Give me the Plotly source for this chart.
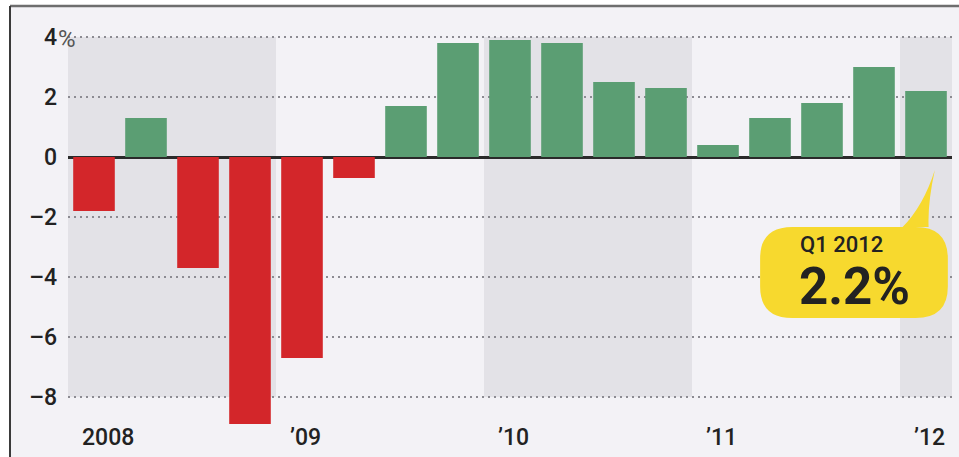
import plotly.graph_objects as go

# Quarterly GDP growth, annualised %, Q1 2008 - Q1 2012
quarters = [
    "Q1 2008", "Q2 2008", "Q3 2008", "Q4 2008",
    "Q1 2009", "Q2 2009", "Q3 2009", "Q4 2009",
    "Q1 2010", "Q2 2010", "Q3 2010", "Q4 2010",
    "Q1 2011", "Q2 2011", "Q3 2011", "Q4 2011",
    "Q1 2012",
]
growth = [-1.8, 1.3, -3.7, -8.9, -6.7, -0.7, 1.7, 3.8,
          3.9, 3.8, 2.5, 2.3, 0.4, 1.3, 1.8, 3.0, 2.2]

year_labels = ["2008", "\u201909", "\u201910", "\u201911", "\u201912"]
shaded_years = ["2008", "2010", "2012"]

y_ticks = [4, 2, 0, -2, -4, -6, -8]
y_tick_text = ["4", "2", "0", "\u20132", "\u20134", "\u20136", "\u20138"]

callout_title = "Q1 2012"
callout_value = "2.2%"

RED = "#d3262a"
GREEN = "#5b9e73"
BG = "#f3f2f6"
BAND = "#e3e2e7"
YELLOW = "#f7d92e"
INK = "#222222"
FONT = "Roboto"

x = list(range(len(quarters)))
colors = [GREEN if v >= 0 else RED for v in growth]

fig = go.Figure(go.Bar(x=x, y=growth, marker=dict(color=colors, line=dict(width=0)),
                       width=0.8, hoverinfo="skip"))

# plot-area geometry (pixels) used to place paper-referenced frame items
W, H = 959, 457
L, R, T, B = 68, 7, 10, 30
pw, ph = W - L - R, H - T - B

def px_x(p):
    return (p - L) / pw

def px_y(p):
    return (H - B - p) / ph

shapes = []
# light panel behind the chart, inside the frame
shapes.append(dict(type="rect", xref="paper", yref="paper", layer="below",
                   x0=px_x(10), x1=px_x(W), y0=px_y(H), y1=px_y(7),
                   fillcolor=BG, line=dict(width=0)))
# shaded alternate years
for yr in shaded_years:
    idx = [i for i, q in enumerate(quarters) if q.endswith(yr)]
    shapes.append(dict(type="rect", xref="x", yref="y", layer="below",
                       x0=min(idx) - 0.5 - (0.08 if min(idx) == 0 else 0),
                       x1=max(idx) + 0.5, y0=min(y_ticks), y1=max(y_ticks),
                       fillcolor=BAND, line=dict(width=0)))
# frame lines: top and left
shapes.append(dict(type="line", xref="paper", yref="paper", layer="above",
                   x0=px_x(10), x1=px_x(W), y0=px_y(6), y1=px_y(6),
                   line=dict(color="#6e6e6e", width=2.5)))
shapes.append(dict(type="line", xref="paper", yref="paper", layer="above",
                   x0=px_x(10), x1=px_x(10), y0=px_y(6), y1=px_y(H),
                   line=dict(color="#3a3a3a", width=2)))

# yellow speech bubble pointing at the latest quarter
last = len(growth) - 1
bx0, bx1 = last - 3.19, last + 0.42
by_top, by_bot = -2.33, -5.37
rx, ry = 0.62, 1.05
tip_x, tip_y = last + 0.17, -0.43
base_l, base_r = last - 0.45, last + 0.05
path = (
    f"M {bx0 + rx},{by_top} L {base_l},{by_top} "
    f"Q {base_l + 0.4},{by_top + 0.7} {tip_x},{tip_y} "
    f"Q {base_r - 0.02},{by_top + 0.8} {base_r},{by_top} L {bx1 - rx},{by_top} "
    f"Q {bx1},{by_top} {bx1},{by_top - ry} L {bx1},{by_bot + ry} "
    f"Q {bx1},{by_bot} {bx1 - rx},{by_bot} L {bx0 + rx},{by_bot} "
    f"Q {bx0},{by_bot} {bx0},{by_bot + ry} L {bx0},{by_top - ry} "
    f"Q {bx0},{by_top} {bx0 + rx},{by_top} Z"
)
shapes.append(dict(type="path", xref="x", yref="y", layer="above", path=path,
                   fillcolor=YELLOW, line=dict(width=0)))

annotations = []
# year labels under the first quarter of each year
for k, lab in enumerate(year_labels):
    annotations.append(dict(text=lab, xref="x", yref="paper", x=4 * k - 0.27,
                            y=px_y(437), xanchor="left", yanchor="middle",
                            showarrow=False,
                            font=dict(family=FONT, size=23, color=INK, weight=500)))
# percent sign next to the top tick
annotations.append(dict(text="%", xref="paper", yref="y", x=px_x(56), y=max(y_ticks) - 0.05,
                        xanchor="left", yanchor="middle", showarrow=False,
                        font=dict(family=FONT, size=24, color="#555555")))
# bubble text
annotations.append(dict(text=callout_title, xref="x", yref="y", x=last - 1.62, y=-2.93,
                        showarrow=False, xanchor="center", yanchor="middle",
                        font=dict(family=FONT, size=22, color=INK, weight=500)))
annotations.append(dict(text=f"<b>{callout_value}</b>", xref="x", yref="y",
                        x=last - 1.37, y=-4.33, showarrow=False,
                        xanchor="center", yanchor="middle",
                        font=dict(family=FONT, size=51, color=INK)))

fig.update_layout(
    width=W, height=H,
    margin=dict(l=L, r=R, t=T, b=B, pad=0),
    paper_bgcolor="white", plot_bgcolor="rgba(0,0,0,0)",
    showlegend=False, bargap=0.2,
    shapes=shapes, annotations=annotations,
    xaxis=dict(range=[-0.5, len(quarters) - 0.5], showticklabels=False,
               showgrid=False, zeroline=False, showline=False, ticks="",
               fixedrange=True),
    yaxis=dict(range=[-9.0, 4.9], tickvals=y_ticks, ticktext=y_tick_text,
               showgrid=True, gridcolor="#8c8b92", gridwidth=2, griddash="2px,4px",
               zeroline=True, zerolinecolor="#2a2a2a", zerolinewidth=3,
               showline=False, ticks="", ticklabelstandoff=10,
               tickfont=dict(family=FONT, size=23, color=INK, weight=500),
               fixedrange=True),
)

fig.write_html("out.html", config={"displayModeBar": False})
